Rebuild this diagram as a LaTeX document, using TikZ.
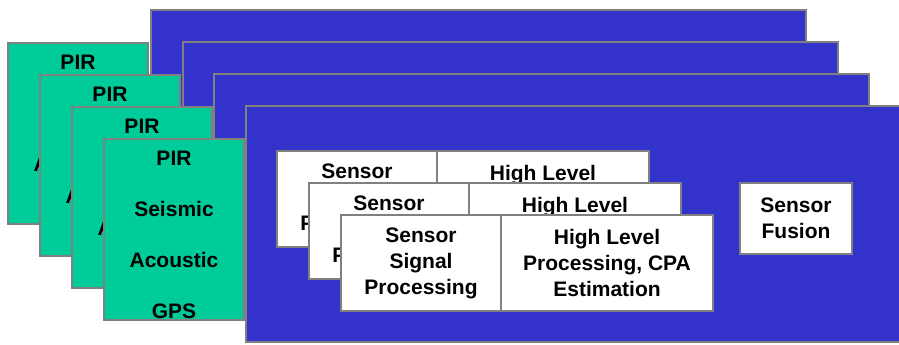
\documentclass[tikz,border=0pt]{standalone}
\usepackage{fontspec}
\setmainfont{Liberation Sans}
\usetikzlibrary{positioning}

\definecolor{panelblue}{HTML}{3333CC}
\definecolor{sensorgreen}{HTML}{00CC99}
\definecolor{edgegray}{HTML}{808080}

\tikzset{
  edge/.style={draw=edgegray, line width=2.6pt, outer sep=0pt},
  panel/.style={edge, fill=panelblue, minimum width=655pt, minimum height=236pt, inner sep=0pt, anchor=north west},
  card/.style={edge, fill=sensorgreen, minimum width=140pt, minimum height=181pt, anchor=north west},
  cardtext/.style={font=\fontsize{21}{51}\selectfont\bfseries, align=center, inner sep=0pt},
  procbox/.style={edge, fill=white, minimum height=96pt, inner sep=0pt, align=center, font=\fontsize{21}{26}\selectfont\bfseries},
}

\begin{document}
\begin{tikzpicture}[x=1pt, y=-1pt]
  \clip (0,0) rectangle (899,345);

  % stacked node panels
  \node[panel] (panelA) at (151,10) {};
  \node[panel] (panelB) at (183,42) {};
  \node[panel] (panelC) at (214,74) {};
  \node[panel] (panelD) at (246,106) {};

  % sensor cards
  \node[card] (cardA) at (8,43) {};
  \node[cardtext] (cardAtext) at ([yshift=-5pt]cardA.center) {PIR\\Seismic\\Acoustic\\GPS};
  \node[card] (cardB) at (40,75) {};
  \node[cardtext] (cardBtext) at ([yshift=-5pt]cardB.center) {PIR\\Seismic\\Acoustic\\GPS};
  \node[card] (cardC) at (72,107) {};
  \node[cardtext] (cardCtext) at ([yshift=-5pt]cardC.center) {PIR\\Seismic\\Acoustic\\GPS};
  \node[card] (cardD) at (104,139) {};
  \node[cardtext] (cardDtext) at ([yshift=-5pt]cardD.center) {PIR\\Seismic\\Acoustic\\GPS};

  % processing chain, one per sensor
  \node[procbox, minimum width=160pt] (sigA) at (357,199) {Sensor\\Signal\\Processing};
  \node[procbox, minimum width=212pt, right=0pt of sigA] (hlA) {High Level\\Processing, CPA\\Estimation};
  \node[procbox, minimum width=160pt] (sigB) at (389,231) {Sensor\\Signal\\Processing};
  \node[procbox, minimum width=212pt, right=0pt of sigB] (hlB) {High Level\\Processing, CPA\\Estimation};
  \node[procbox, minimum width=160pt] (sigC) at (421,263) {Sensor\\Signal\\Processing};
  \node[procbox, minimum width=212pt, right=0pt of sigC] (hlC) {High Level\\Processing, CPA\\Estimation};

  \node[procbox, minimum width=112pt, minimum height=71pt] (fusion) at (796,218.5) {Sensor\\Fusion};
\end{tikzpicture}
\end{document}
